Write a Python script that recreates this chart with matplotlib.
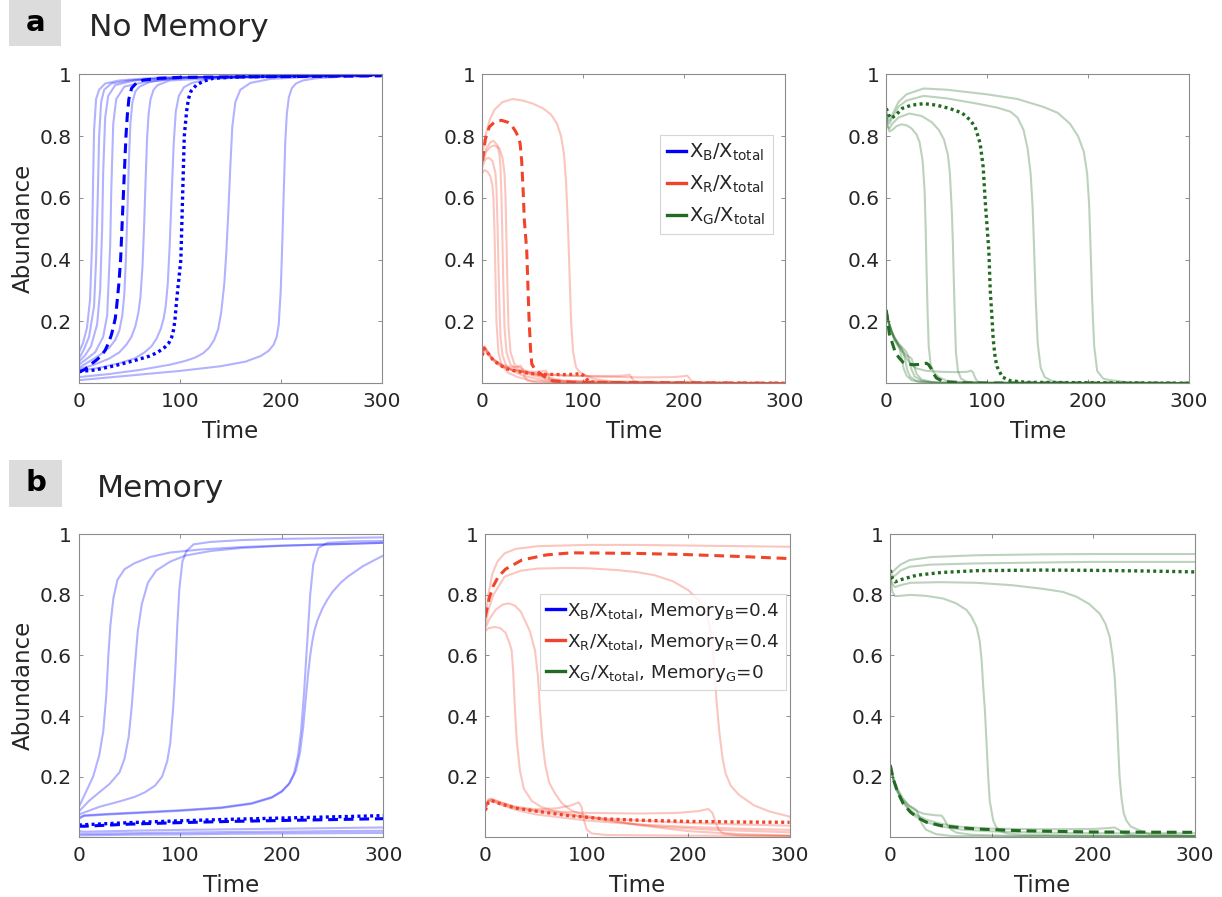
import matplotlib
matplotlib.use("Agg")
import matplotlib.pyplot as plt
from matplotlib.lines import Line2D
from matplotlib.patches import Rectangle

plt.rcParams['font.family'] = ['DejaVu Sans']

# ---------------- data ----------------
# each curve is (time points, abundance values)

# a) No Memory, X_B / X_total
a_B_solid = [
    ([0, 4, 8, 11, 13, 14, 15, 17, 20, 26, 40, 80, 300],
     [0.10, 0.13, 0.18, 0.27, 0.45, 0.65, 0.82, 0.92, 0.95, 0.97, 0.98, 0.99, 0.998]),
    ([0, 5, 10, 15, 17, 19, 20, 22, 25, 32, 50, 100, 300],
     [0.08, 0.11, 0.15, 0.25, 0.40, 0.65, 0.80, 0.91, 0.95, 0.97, 0.98, 0.99, 0.998]),
    ([0, 6, 12, 18, 21, 23, 24, 26, 29, 36, 55, 100, 300],
     [0.07, 0.09, 0.12, 0.19, 0.30, 0.50, 0.68, 0.86, 0.93, 0.965, 0.98, 0.99, 0.998]),
    ([0, 8, 16, 24, 28, 31, 32, 34, 37, 45, 65, 110, 300],
     [0.06, 0.08, 0.10, 0.15, 0.22, 0.45, 0.62, 0.84, 0.92, 0.96, 0.975, 0.99, 0.998]),
    ([0, 10, 20, 30, 36, 40, 43, 45, 46.5, 48, 49.5, 51, 53, 56, 60, 70, 90, 120, 300],
     [0.05, 0.07, 0.09, 0.115, 0.14, 0.17, 0.22, 0.29, 0.40, 0.55, 0.72, 0.84, 0.91, 0.945, 0.96, 0.975, 0.985, 0.99, 0.998]),
    ([0, 15, 30, 40, 47, 52, 56, 59, 61, 63, 64.5, 66, 67.5, 69, 71, 74, 78, 90, 150, 300],
     [0.045, 0.06, 0.08, 0.10, 0.125, 0.15, 0.185, 0.23, 0.28, 0.38, 0.50, 0.65, 0.79, 0.87, 0.92, 0.95, 0.965, 0.98, 0.99, 0.998]),
    ([0, 20, 40, 55, 65, 72, 77, 81, 84, 86, 88, 90, 92, 94, 96, 99, 104, 112, 130, 170, 300],
     [0.04, 0.05, 0.065, 0.08, 0.10, 0.12, 0.145, 0.175, 0.21, 0.25, 0.32, 0.45, 0.62, 0.78, 0.88, 0.93, 0.958, 0.972, 0.985, 0.99, 0.998]),
    ([0, 30, 60, 90, 105, 115, 123, 129, 134, 138, 141, 144, 146, 148, 150, 152, 155, 160, 170, 190, 220, 300],
     [0.02, 0.03, 0.043, 0.06, 0.072, 0.083, 0.097, 0.115, 0.14, 0.175, 0.23, 0.32, 0.42, 0.55, 0.70, 0.83, 0.91, 0.95, 0.972, 0.985, 0.99, 0.998]),
    ([0, 50, 100, 140, 165, 180, 188, 193, 196, 198, 200, 201.5, 203, 204.5, 206, 208, 211, 215, 222, 235, 260, 300],
     [0.01, 0.025, 0.04, 0.055, 0.07, 0.088, 0.105, 0.125, 0.15, 0.19, 0.30, 0.45, 0.62, 0.78, 0.87, 0.925, 0.955, 0.97, 0.98, 0.987, 0.992, 0.995]),
]
a_B_dashed = ([0, 6, 12.5, 18, 22.4, 26, 29, 32, 34, 36, 37.3, 39.5, 41.3, 43.9, 46.6, 48, 49.5, 52.2, 57, 63.7, 80, 100, 300],
              [0.036, 0.045, 0.063, 0.077, 0.09, 0.107, 0.128, 0.155, 0.18, 0.21, 0.246, 0.32, 0.40, 0.60, 0.80, 0.87, 0.92, 0.955, 0.972, 0.981, 0.987, 0.99, 0.995])
a_B_dotted = ([0, 15.9, 35.7, 55.5, 70, 78, 85.2, 89, 91.9, 93.7, 95.1, 96.8, 98.8, 101, 102.7, 104.4, 106.7, 108.5, 111, 116.6, 124, 133, 160, 300],
              [0.038, 0.043, 0.057, 0.074, 0.088, 0.10, 0.117, 0.13, 0.149, 0.172, 0.203, 0.268, 0.33, 0.40, 0.60, 0.80, 0.88, 0.92, 0.945, 0.966, 0.978, 0.987, 0.992, 0.997])

# a) No Memory, X_R / X_total
a_R_solid = [
    ([0, 2, 5, 8, 10, 11, 12, 13, 14, 16, 19, 25, 35, 50, 80, 300],
     [0.68, 0.69, 0.685, 0.67, 0.64, 0.60, 0.50, 0.35, 0.20, 0.10, 0.06, 0.035, 0.02, 0.008, 0.002, 0.0]),
    ([0, 3, 6, 10, 13, 14, 15, 16, 17, 18, 20, 24, 30, 40, 60, 100, 300],
     [0.70, 0.725, 0.73, 0.72, 0.68, 0.63, 0.52, 0.38, 0.25, 0.15, 0.09, 0.055, 0.04, 0.025, 0.01, 0.002, 0.0]),
    ([0, 4, 8, 11, 15, 17, 18, 19, 20, 21, 22, 24, 28, 35, 45, 70, 120, 300],
     [0.72, 0.76, 0.78, 0.785, 0.77, 0.74, 0.70, 0.60, 0.45, 0.30, 0.18, 0.10, 0.06, 0.045, 0.03, 0.01, 0.002, 0.0]),
    ([0, 4, 8, 12, 17, 20, 22, 23, 24, 25, 26, 28, 32, 40, 50, 80, 300],
     [0.71, 0.75, 0.765, 0.77, 0.76, 0.73, 0.68, 0.60, 0.45, 0.30, 0.18, 0.10, 0.06, 0.045, 0.03, 0.008, 0.0]),
    ([0, 3, 7, 12, 20, 30, 40, 50, 60, 68, 74, 78, 81, 83, 85, 86.5, 88, 90, 93, 97, 103, 110, 130, 300],
     [0.74, 0.80, 0.85, 0.885, 0.91, 0.92, 0.915, 0.905, 0.89, 0.87, 0.84, 0.80, 0.74, 0.65, 0.50, 0.35, 0.20, 0.10, 0.05, 0.035, 0.025, 0.015, 0.004, 0.0]),
    ([0, 2, 5, 10, 15, 20, 25, 30, 35, 38, 40, 42, 45, 55, 300],
     [0.095, 0.115, 0.10, 0.08, 0.068, 0.06, 0.055, 0.052, 0.053, 0.057, 0.045, 0.02, 0.008, 0.002, 0.0]),
    ([0, 2, 5, 10, 15, 20, 30, 40, 50, 58, 63, 65, 67, 70, 80, 300],
     [0.09, 0.11, 0.095, 0.075, 0.062, 0.053, 0.045, 0.04, 0.037, 0.038, 0.041, 0.03, 0.012, 0.004, 0.001, 0.0]),
    ([0, 2, 5, 10, 20, 30, 50, 80, 110, 135, 143, 146, 148, 150, 155, 170, 300],
     [0.10, 0.12, 0.105, 0.08, 0.055, 0.042, 0.032, 0.026, 0.023, 0.024, 0.026, 0.028, 0.018, 0.008, 0.003, 0.001, 0.0]),
    ([0, 2, 5, 10, 20, 30, 50, 80, 120, 160, 190, 200, 203, 205, 207, 212, 225, 300],
     [0.10, 0.118, 0.103, 0.08, 0.055, 0.042, 0.031, 0.025, 0.021, 0.019, 0.02, 0.023, 0.025, 0.018, 0.008, 0.003, 0.001, 0.0]),
]
a_R_dashed = ([0, 3, 7, 12, 19, 25, 29, 33, 36, 37.5, 39, 40.5, 41.6, 44, 46.3, 47.8, 49, 52, 56, 62, 70, 90, 300],
              [0.72, 0.79, 0.83, 0.845, 0.851, 0.845, 0.835, 0.815, 0.795, 0.775, 0.72, 0.62, 0.53, 0.43, 0.21, 0.11, 0.063, 0.045, 0.035, 0.02, 0.008, 0.003, 0.0])
a_R_dotted = ([0, 1.7, 5, 11, 18, 24, 35, 47, 60, 80, 92, 97, 100, 103, 107, 115, 150, 300],
              [0.09, 0.113, 0.10, 0.074, 0.058, 0.047, 0.038, 0.032, 0.029, 0.028, 0.029, 0.032, 0.026, 0.014, 0.005, 0.002, 0.0, 0.0])

# a) No Memory, X_G / X_total
a_G_solid = [
    ([0, 1, 3, 6, 10, 15, 20, 25, 30, 33, 36, 38, 39, 40, 41, 42, 44, 47, 52, 60, 80, 300],
     [0.88, 0.84, 0.815, 0.82, 0.832, 0.838, 0.835, 0.825, 0.805, 0.78, 0.72, 0.62, 0.50, 0.35, 0.22, 0.12, 0.06, 0.035, 0.02, 0.008, 0.002, 0.0]),
    ([0, 1, 3, 6, 12, 23, 35, 45, 52, 57, 61, 63, 65, 66, 67, 68, 69, 71, 74, 80, 100, 300],
     [0.86, 0.83, 0.825, 0.84, 0.86, 0.873, 0.865, 0.845, 0.82, 0.79, 0.74, 0.68, 0.55, 0.45, 0.32, 0.20, 0.10, 0.04, 0.015, 0.005, 0.001, 0.0]),
    ([0, 1, 3, 6, 12, 20, 37, 60, 90, 110, 123, 130, 136, 140, 143, 145, 146, 147, 148, 150, 153, 157, 165, 180, 300],
     [0.87, 0.85, 0.84, 0.86, 0.895, 0.915, 0.93, 0.922, 0.905, 0.892, 0.879, 0.86, 0.82, 0.76, 0.68, 0.57, 0.48, 0.38, 0.28, 0.13, 0.05, 0.02, 0.006, 0.002, 0.0]),
    ([0, 1, 3, 6, 12, 20, 37, 60, 100, 130, 156, 170, 182, 190, 195.7, 199, 201, 202, 203, 204, 206, 209, 215, 222, 240, 300],
     [0.88, 0.86, 0.85, 0.87, 0.91, 0.935, 0.954, 0.95, 0.935, 0.92, 0.894, 0.875, 0.84, 0.80, 0.75, 0.68, 0.58, 0.48, 0.38, 0.27, 0.12, 0.04, 0.015, 0.01, 0.003, 0.0]),
    ([0, 2, 5, 8, 11, 13, 15, 17, 20, 25, 35, 50, 300],
     [0.236, 0.20, 0.165, 0.14, 0.125, 0.115, 0.085, 0.05, 0.025, 0.01, 0.003, 0.001, 0.0]),
    ([0, 2, 5, 8, 12, 15, 17, 19, 21, 24, 30, 45, 300],
     [0.236, 0.20, 0.168, 0.145, 0.125, 0.115, 0.10, 0.07, 0.04, 0.02, 0.007, 0.002, 0.0]),
    ([0, 2, 5, 8, 12, 16, 19, 21, 23, 25, 28, 35, 50, 300],
     [0.236, 0.20, 0.17, 0.148, 0.13, 0.115, 0.105, 0.095, 0.07, 0.045, 0.022, 0.008, 0.002, 0.0]),
    ([0, 2, 5, 8, 12, 16, 20, 23, 25, 27, 30, 35, 45, 60, 300],
     [0.236, 0.205, 0.172, 0.15, 0.125, 0.105, 0.09, 0.085, 0.08, 0.06, 0.03, 0.012, 0.004, 0.001, 0.0]),
    ([0, 2, 5, 8, 12, 16, 20, 25, 30, 40, 55, 70, 80, 84, 86, 88, 90, 93, 100, 300],
     [0.236, 0.20, 0.17, 0.145, 0.12, 0.10, 0.08, 0.06, 0.048, 0.04, 0.037, 0.036, 0.037, 0.041, 0.035, 0.018, 0.007, 0.002, 0.0, 0.0]),
]
a_G_dashed = ([0, 3, 8.3, 12, 16.6, 20, 26.5, 33, 39.7, 42, 44.7, 47, 49.7, 55, 63, 80, 300],
              [0.236, 0.16, 0.106, 0.085, 0.068, 0.063, 0.06, 0.061, 0.065, 0.06, 0.046, 0.03, 0.017, 0.008, 0.004, 0.001, 0.0])
a_G_dotted = ([0, 2, 5, 10, 16, 25, 37, 50, 63, 75, 83, 88, 93, 96, 98, 100, 101.6, 103, 104.7, 106, 108, 110, 115, 123, 140, 300],
              [0.89, 0.87, 0.857, 0.87, 0.89, 0.90, 0.905, 0.90, 0.889, 0.875, 0.852, 0.83, 0.776, 0.70, 0.59, 0.50, 0.43, 0.30, 0.214, 0.14, 0.08, 0.052, 0.02, 0.008, 0.003, 0.0])

# b) Memory, X_B / X_total
b_B_solid = [
    ([0, 7, 14, 20, 24, 27, 29, 31, 34, 38, 45, 55, 70, 90, 120, 160, 200, 300],
     [0.10, 0.15, 0.20, 0.27, 0.35, 0.47, 0.60, 0.70, 0.79, 0.85, 0.885, 0.905, 0.925, 0.94, 0.95, 0.958, 0.963, 0.972]),
    ([0, 10, 20, 30, 40, 45, 49, 52, 55, 58, 62, 68, 76, 90, 105, 130, 160, 200, 300],
     [0.085, 0.12, 0.148, 0.175, 0.214, 0.26, 0.33, 0.43, 0.56, 0.68, 0.77, 0.84, 0.88, 0.91, 0.93, 0.945, 0.955, 0.962, 0.972]),
    ([0, 20, 40, 55, 65, 75, 82, 87, 90, 93, 95, 97, 99, 102, 106, 113, 130, 160, 200, 300],
     [0.075, 0.10, 0.118, 0.133, 0.148, 0.17, 0.20, 0.25, 0.31, 0.43, 0.55, 0.70, 0.82, 0.91, 0.945, 0.967, 0.975, 0.981, 0.985, 0.99]),
    ([0, 5, 30, 60, 100, 140, 170, 190, 200, 207, 212, 216, 219, 222, 225, 228, 231, 236, 245, 270, 300],
     [0.06, 0.07, 0.075, 0.08, 0.087, 0.096, 0.11, 0.13, 0.15, 0.175, 0.21, 0.27, 0.35, 0.48, 0.64, 0.80, 0.90, 0.955, 0.972, 0.977, 0.978]),
    ([0, 5, 30, 60, 100, 140, 170, 190, 200, 208, 214, 218, 221, 224, 226, 228, 230, 232, 235, 240, 245, 250, 258, 265, 280, 300],
     [0.065, 0.072, 0.077, 0.082, 0.089, 0.098, 0.112, 0.132, 0.152, 0.18, 0.22, 0.28, 0.36, 0.47, 0.54, 0.60, 0.645, 0.68, 0.715, 0.755, 0.785, 0.81, 0.84, 0.86, 0.895, 0.93]),
    ([0, 5, 50, 100, 150, 200, 250, 300],
     [0.02, 0.018, 0.021, 0.024, 0.026, 0.028, 0.030, 0.032]),
    ([0, 5, 50, 100, 150, 200, 250, 300],
     [0.012, 0.011, 0.013, 0.015, 0.017, 0.018, 0.020, 0.021]),
    ([0, 5, 50, 100, 150, 200, 250, 300],
     [0.006, 0.006, 0.008, 0.009, 0.011, 0.012, 0.013, 0.014]),
]
b_B_dashed = ([0, 5, 50, 100, 150, 200, 250, 300],
              [0.036, 0.036, 0.043, 0.048, 0.052, 0.055, 0.058, 0.061])
b_B_dotted = ([0, 5, 50, 100, 150, 200, 250, 300],
              [0.04, 0.041, 0.048, 0.054, 0.059, 0.063, 0.067, 0.071])

# b) Memory, X_R / X_total
b_R_solid = [
    ([0, 3, 7, 12, 19, 30, 52, 100, 150, 200, 250, 300],
     [0.72, 0.80, 0.87, 0.91, 0.937, 0.952, 0.961, 0.965, 0.965, 0.963, 0.961, 0.959]),
    ([0, 4, 8, 19, 35, 52, 80, 101, 130, 150, 167, 185, 200, 210, 217, 221, 224, 226, 228, 231, 234, 237, 242, 250, 265, 280, 300],
     [0.70, 0.76, 0.80, 0.86, 0.88, 0.887, 0.889, 0.888, 0.882, 0.875, 0.865, 0.845, 0.816, 0.785, 0.75, 0.70, 0.63, 0.55, 0.45, 0.34, 0.26, 0.21, 0.17, 0.14, 0.105, 0.085, 0.068]),
    ([0, 4, 10, 17, 23, 29, 35, 39, 44, 49, 52, 54, 56, 59, 63, 69, 76, 85, 100, 150, 200, 250, 300],
     [0.69, 0.72, 0.75, 0.768, 0.772, 0.765, 0.745, 0.716, 0.68, 0.617, 0.53, 0.42, 0.33, 0.242, 0.18, 0.143, 0.11, 0.088, 0.07, 0.04, 0.02, 0.01, 0.005]),
    ([0, 3, 9.6, 15, 20, 24, 26, 27.5, 29.3, 31, 34.2, 38, 45.8, 55, 68.8, 85, 100, 130, 170, 220, 300],
     [0.68, 0.69, 0.694, 0.69, 0.675, 0.64, 0.617, 0.55, 0.42, 0.32, 0.22, 0.16, 0.12, 0.10, 0.085, 0.075, 0.065, 0.05, 0.035, 0.025, 0.016]),
    ([0, 3, 6, 15, 30, 50, 70, 85, 92, 95, 97, 100, 105, 120, 200, 300],
     [0.095, 0.12, 0.125, 0.115, 0.10, 0.092, 0.095, 0.105, 0.115, 0.10, 0.06, 0.025, 0.012, 0.007, 0.005, 0.004]),
    ([0, 3, 6, 15, 30, 50, 100, 150, 190, 210, 220, 224, 227, 230, 235, 250, 300],
     [0.09, 0.118, 0.122, 0.11, 0.095, 0.088, 0.08, 0.078, 0.08, 0.086, 0.093, 0.08, 0.05, 0.025, 0.012, 0.006, 0.004]),
    ([0, 3, 6, 15, 30, 50, 100, 150, 200, 250, 300],
     [0.10, 0.125, 0.127, 0.115, 0.098, 0.085, 0.065, 0.055, 0.047, 0.042, 0.038]),
    ([0, 3, 6, 15, 30, 50, 100, 150, 200, 250, 300],
     [0.092, 0.115, 0.12, 0.108, 0.09, 0.075, 0.055, 0.042, 0.034, 0.028, 0.024]),
]
b_R_dashed = ([0, 4, 8, 12.8, 20, 36, 60, 85, 150, 200, 250, 300],
              [0.727, 0.79, 0.83, 0.86, 0.885, 0.915, 0.932, 0.939, 0.937, 0.933, 0.927, 0.92])
b_R_dotted = ([0, 3, 6, 15, 30, 52, 80, 118, 160, 200, 250, 300],
              [0.088, 0.115, 0.121, 0.11, 0.096, 0.085, 0.072, 0.06, 0.055, 0.052, 0.05, 0.049])

# b) Memory, X_G / X_total
b_G_solid = [
    ([0, 2, 5, 10, 19, 40, 85, 150, 200, 300],
     [0.88, 0.875, 0.885, 0.90, 0.915, 0.925, 0.931, 0.934, 0.935, 0.935]),
    ([0, 2, 5, 10, 19, 40, 85, 150, 200, 300],
     [0.88, 0.86, 0.865, 0.88, 0.893, 0.90, 0.904, 0.907, 0.909, 0.909]),
    ([0, 2, 4.6, 10, 20, 50, 85, 120, 150.6, 170, 183.5, 196, 206.4, 212, 216.3, 219, 221.2, 223, 224.5, 226, 227.8, 230, 232.7, 237, 242.6, 255, 300],
     [0.86, 0.835, 0.826, 0.832, 0.84, 0.842, 0.84, 0.832, 0.82, 0.81, 0.794, 0.77, 0.738, 0.705, 0.661, 0.60, 0.529, 0.42, 0.308, 0.20, 0.132, 0.08, 0.055, 0.035, 0.027, 0.01, 0.004]),
    ([0, 2, 4.6, 10, 19.4, 35, 52.2, 65, 75.2, 80, 85, 88, 90, 91.5, 93.2, 95, 96.5, 98, 101.4, 104, 108, 115, 130, 200, 300],
     [0.86, 0.81, 0.796, 0.797, 0.80, 0.797, 0.788, 0.772, 0.75, 0.728, 0.694, 0.65, 0.584, 0.50, 0.419, 0.30, 0.198, 0.12, 0.055, 0.035, 0.02, 0.012, 0.008, 0.005, 0.003]),
    ([0, 3, 7, 12, 18, 22, 24, 26, 28, 31, 35, 45, 60, 100, 300],
     [0.237, 0.19, 0.155, 0.125, 0.105, 0.097, 0.094, 0.088, 0.07, 0.045, 0.025, 0.01, 0.004, 0.002, 0.002]),
    ([0, 3, 7, 12, 18, 25, 32, 40, 46, 50.6, 53, 56, 60, 65, 80, 120, 300],
     [0.237, 0.195, 0.16, 0.13, 0.105, 0.088, 0.078, 0.074, 0.072, 0.071, 0.06, 0.04, 0.025, 0.015, 0.008, 0.004, 0.002]),
    ([0, 3, 7, 12, 18, 25, 35, 50, 70, 100, 150, 200, 215, 221, 225, 230, 234, 245, 300],
     [0.237, 0.19, 0.15, 0.12, 0.095, 0.075, 0.058, 0.044, 0.034, 0.028, 0.026, 0.027, 0.03, 0.032, 0.025, 0.013, 0.008, 0.005, 0.004]),
    ([0, 3, 7, 12, 18, 25, 35, 50, 70, 100, 150, 200, 300],
     [0.237, 0.19, 0.15, 0.118, 0.09, 0.068, 0.05, 0.035, 0.025, 0.019, 0.015, 0.013, 0.013]),
]
b_G_dashed = ([0, 3, 7, 12.8, 20, 28, 35.8, 50, 70, 85, 130, 200, 300],
              [0.237, 0.19, 0.15, 0.11, 0.082, 0.062, 0.049, 0.038, 0.031, 0.027, 0.021, 0.017, 0.016])
b_G_dotted = ([0, 2, 4.6, 10, 26, 50, 85, 150, 200, 250, 300],
              [0.882, 0.855, 0.843, 0.85, 0.865, 0.874, 0.88, 0.882, 0.881, 0.879, 0.876])

legend_a = [r'X$_\mathregular{B}$/X$_\mathregular{total}$',
            r'X$_\mathregular{R}$/X$_\mathregular{total}$',
            r'X$_\mathregular{G}$/X$_\mathregular{total}$']
legend_b = [r'X$_\mathregular{B}$/X$_\mathregular{total}$, Memory$_\mathregular{B}$=0.4',
            r'X$_\mathregular{R}$/X$_\mathregular{total}$, Memory$_\mathregular{R}$=0.4',
            r'X$_\mathregular{G}$/X$_\mathregular{total}$, Memory$_\mathregular{G}$=0']

# ---------------- styling ----------------
BLUE = '#0000ff'
RED = '#f2432b'
GREEN = '#226b22'
TXT = '#262626'
ALPHA = 0.3

fig = plt.figure(figsize=(12.22, 8.97), dpi=100)

pos = {
    ('a', 0): [0.0646, 0.5734, 0.2477, 0.3438],
    ('a', 1): [0.3947, 0.5734, 0.2477, 0.3438],
    ('a', 2): [0.7253, 0.5734, 0.2477, 0.3438],
    ('b', 0): [0.0646, 0.0674, 0.2490, 0.3369],
    ('b', 1): [0.3971, 0.0674, 0.2490, 0.3369],
    ('b', 2): [0.7286, 0.0674, 0.2490, 0.3369],
}

panels = [
    ('a', 0, BLUE, a_B_solid, a_B_dashed, a_B_dotted),
    ('a', 1, RED, a_R_solid, a_R_dashed, a_R_dotted),
    ('a', 2, GREEN, a_G_solid, a_G_dashed, a_G_dotted),
    ('b', 0, BLUE, b_B_solid, b_B_dashed, b_B_dotted),
    ('b', 1, RED, b_R_solid, b_R_dashed, b_R_dotted),
    ('b', 2, GREEN, b_G_solid, b_G_dashed, b_G_dotted),
]

axes = {}
for row, col, color, solids, dashed, dotted in panels:
    ax = fig.add_axes(pos[(row, col)])
    axes[(row, col)] = ax
    for t, v in solids:
        ax.plot(t, v, '-', color=color, alpha=ALPHA, lw=1.5, solid_joinstyle='round')
    ax.plot(dashed[0], dashed[1], color=color, lw=2.2, linestyle=(0, (3.2, 1.9)))
    ax.plot(dotted[0], dotted[1], color=color, lw=2.4, linestyle=(0, (0.9, 1.0)))

    ax.set_xlim(0, 300)
    ax.set_ylim(0.002, 1)
    ax.set_xticks([0, 100, 200, 300])
    ax.set_yticks([0.2, 0.4, 0.6, 0.8, 1])
    ax.set_yticklabels(['0.2', '0.4', '0.6', '0.8', '1'])
    ax.tick_params(direction='in', length=3, width=0.7, color='#8c8c8c',
                   top=True, right=True, labelsize=14.5, labelcolor=TXT)
    ax.tick_params(axis='x', pad=7)
    ax.tick_params(axis='y', pad=5)
    for sp in ax.spines.values():
        sp.set_color('#8c8c8c')
        sp.set_linewidth(0.8)
    ax.set_xlabel('Time', fontsize=16.5, color=TXT, labelpad=6)
    if col == 0:
        ax.set_ylabel('Abundance', fontsize=16.5, color=TXT, labelpad=3.5)

# legends
handles = [Line2D([], [], color=BLUE, lw=2.4),
           Line2D([], [], color=RED, lw=2.4),
           Line2D([], [], color=GREEN, lw=2.4)]
for (row, labels, anchor, fs) in [('a', legend_a, (0.959, 0.803), 14),
                                  ('b', legend_b, (0.989, 0.802), 13.2)]:
    leg = axes[(row, 1)].legend(handles, labels, loc='upper right', bbox_to_anchor=anchor,
                                fontsize=fs, frameon=True, fancybox=False,
                                handlelength=1.0, handletextpad=0.15, borderpad=0.35,
                                labelspacing=0.55, borderaxespad=0.0)
    leg.get_frame().set_edgecolor('#cccccc')
    leg.get_frame().set_linewidth(0.8)
    for txt in leg.get_texts():
        txt.set_color(TXT)

# panel tags and titles
fig.patches.append(Rectangle((0.0074, 0.949), 0.0426, 0.051, transform=fig.transFigure,
                             facecolor='#dcdcdc', edgecolor='none'))
fig.patches.append(Rectangle((0.0074, 0.4351), 0.0431, 0.052, transform=fig.transFigure,
                             facecolor='#dcdcdc', edgecolor='none'))
fig.text(0.0287, 0.974, 'a', fontsize=21, fontweight='bold', color='black', ha='center', va='center')
fig.text(0.0297, 0.462, 'b', fontsize=21, fontweight='bold', color='black', ha='center', va='center')
fig.text(0.0731, 0.9599, 'No Memory', fontsize=22.5, color=TXT, ha='left', va='baseline')
fig.text(0.0791, 0.4463, 'Memory', fontsize=22.5, color=TXT, ha='left', va='baseline')

fig.savefig('out.png', dpi=100)
